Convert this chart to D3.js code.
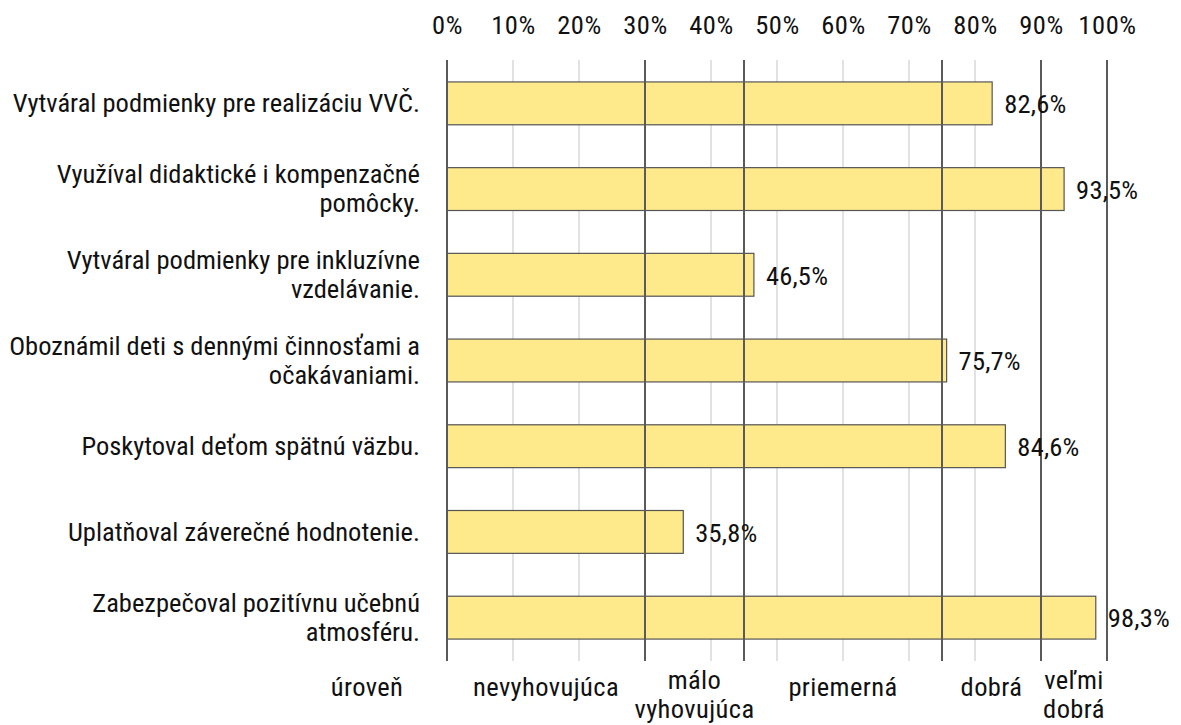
<!DOCTYPE html>
<html><head><meta charset="utf-8">
<script src="https://cdn.jsdelivr.net/npm/d3@7"></script>
<style>
body{margin:0;background:#fff;}
text{font-family:"Roboto Condensed",Roboto,"Noto Sans",sans-serif;fill:#111;}
</style></head>
<body>
<svg id="c" width="1181" height="725"></svg>
<script>
const categories = [
  ["Vytváral podmienky pre realizáciu VVČ."],
  ["Využíval didaktické i kompenzačné", "pomôcky."],
  ["Vytváral podmienky pre inkluzívne", "vzdelávanie."],
  ["Oboznámil deti s dennými činnosťami a", "očakávaniami."],
  ["Poskytoval deťom spätnú väzbu."],
  ["Uplatňoval záverečné hodnotenie."],
  ["Zabezpečoval pozitívnu učebnú", "atmosféru."]
];
const values = [82.6, 93.5, 46.5, 75.7, 84.6, 35.8, 98.3];
const valueLabels = ["82,6%", "93,5%", "46,5%", "75,7%", "84,6%", "35,8%", "98,3%"];
const tickValues = [0,10,20,30,40,50,60,70,80,90,100];
const levelBounds = [0, 30, 45, 75, 90, 100];
const levelNames = [["nevyhovujúca"], ["málo", "vyhovujúca"], ["priemerná"], ["dobrá"], ["veľmi", "dobrá"]];
const levelTitle = "úroveň";

const FS = 26.5;
const svg = d3.select("#c");
const x = d3.scaleLinear().domain([0,100]).range([447,1107]);
const y = d3.scaleBand().domain(d3.range(categories.length)).range([60,660]).paddingInner(0.5).paddingOuter(0.25);

svg.append("g").selectAll("line").data(tickValues.filter(t=>!levelBounds.includes(t))).join("line")
  .attr("x1",d=>x(d)).attr("x2",d=>x(d)).attr("y1",60).attr("y2",661)
  .attr("stroke","#d9d9d9").attr("stroke-width",1.5);

svg.append("g").selectAll("rect").data(values).join("rect")
  .attr("x",x(0)).attr("y",(d,i)=>y(i)+0.5).attr("width",d=>x(d)-x(0)).attr("height",y.bandwidth())
  .attr("fill","#FEE98B").attr("stroke","#555").attr("stroke-width",1.2);

svg.append("g").selectAll("line").data(levelBounds).join("line")
  .attr("x1",d=>x(d)).attr("x2",d=>x(d)).attr("y1",60).attr("y2",661)
  .attr("stroke","#5a5a5a").attr("stroke-width",2);

const ax = svg.append("g").attr("transform","translate(0,34)")
  .call(d3.axisTop(x).tickValues(tickValues).tickFormat(d=>d+"%").tickSize(0).tickPadding(0));
ax.select(".domain").remove();
ax.selectAll("text").attr("y",0).attr("dy",0)
  .style("font-size",FS+"px").style("letter-spacing","0.6px").style("font-family",null).attr("fill","#111");

function ctext(g, lines, x0, yc, anchor, lh, ls){
  const n = lines.length;
  lines.forEach((ln,k)=>{
    const yy = yc + (k-(n-1)/2)*lh;
    g.append("text").attr("x",x0).attr("y",yy).attr("text-anchor",anchor)
     .attr("dy","0.35em").style("font-size",FS+"px").style("letter-spacing",(ls||0)+"px").text(ln);
  });
}

const cg = svg.append("g");
categories.forEach((c,i)=>ctext(cg, c, 420, y(i)+y.bandwidth()/2, "end", 29, 0));

const vg = svg.append("g");
values.forEach((v,i)=>ctext(vg, [valueLabels[i]], x(v)+12, y(i)+y.bandwidth()/2+1, "start", 29, 0.2));

const lg = svg.append("g");
ctext(lg, [levelTitle], x(0)-80, 687, "middle", 29, 0.4);
levelNames.forEach((nm,i)=>{
  const cx = x((levelBounds[i]+levelBounds[i+1])/2);
  ctext(lg, nm, cx, nm.length>1 ? 694 : 687, "middle", 29, 0.4);
});
</script>
</body></html>
